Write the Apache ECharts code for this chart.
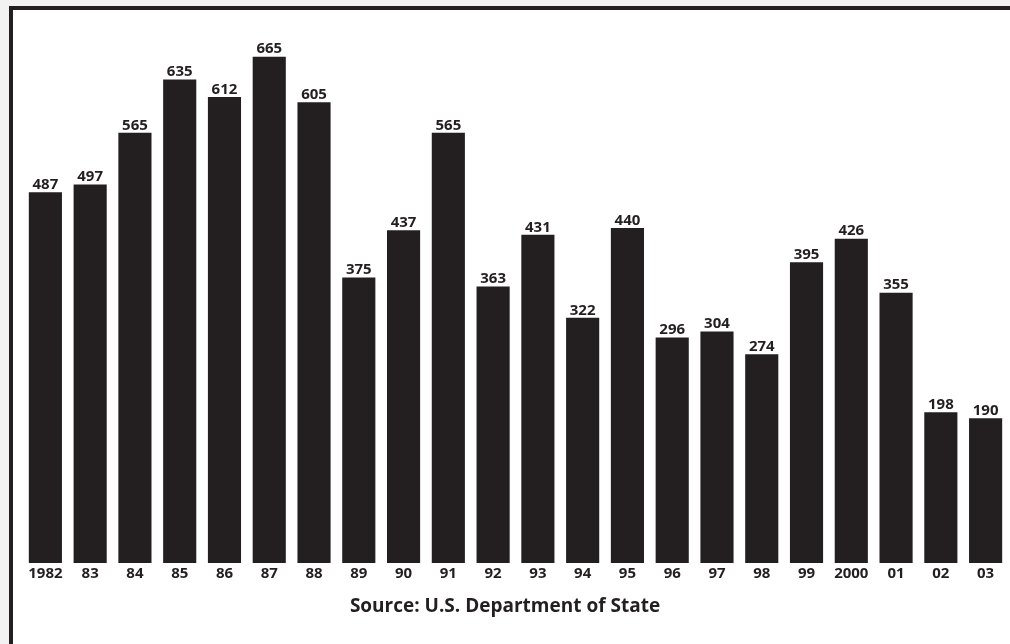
<!DOCTYPE html>
<html>
<head>
<meta charset="utf-8">
<script src="https://cdn.jsdelivr.net/npm/echarts@6/dist/echarts.min.js"></script>
<style>
  html, body { margin: 0; padding: 0; background: #f2f2f2; }
  #chart { width: 1010px; height: 644px; }
</style>
</head>
<body>
<div id="chart"></div>
<script>
const years = ["1982", "83", "84", "85", "86", "87", "88", "89", "90", "91", "92",
  "93", "94", "95", "96", "97", "98", "99", "2000", "01", "02", "03"];
const attacks = [487, 497, 565, 635, 612, 665, 605, 375, 437, 565, 363,
  431, 322, 440, 296, 304, 274, 395, 426, 355, 198, 190];
const sourceText = "Source: U.S. Department of State";

const ink = "#231f20";
const font = "'Open Sans', 'Noto Sans', sans-serif";

const myChart = echarts.init(document.getElementById("chart"));
const option = {
  backgroundColor: "#f2f2f2",
  animation: false,
  graphic: [
    {
      type: "rect",
      shape: { x: 11, y: 8, width: 1012, height: 660 },
      style: { fill: "#ffffff", stroke: ink, lineWidth: 4 },
      z: -10
    },
    {
      type: "text",
      left: "center",
      top: 597,
      style: {
        text: sourceText,
        fill: ink,
        font: "bold 19px " + font
      }
    }
  ],
  grid: { left: 23, right: 2, top: 30, bottom: 81 },
  xAxis: {
    type: "category",
    data: years,
    axisLine: { show: false },
    axisTick: { show: false },
    axisLabel: {
      color: ink,
      fontFamily: font,
      fontWeight: "bold",
      fontSize: 15,
      margin: 3,
      interval: 0
    }
  },
  yAxis: {
    type: "value",
    min: 0,
    max: 700,
    show: false,
    splitLine: { show: false }
  },
  series: [
    {
      type: "bar",
      data: attacks,
      barCategoryGap: "26%",
      itemStyle: { color: ink },
      label: {
        show: true,
        position: "top",
        distance: 0,
        color: ink,
        fontFamily: font,
        fontWeight: "bold",
        fontSize: 15
      }
    }
  ]
};
myChart.setOption(option);
</script>
</body>
</html>
